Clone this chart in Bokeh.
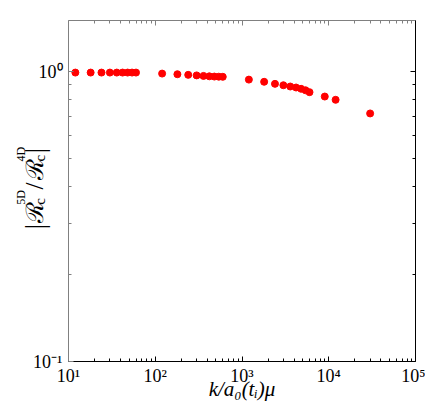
import math
from bokeh.plotting import figure
from bokeh.layouts import row
from bokeh.models import LogAxis, FixedTicker, CustomJSTickFormatter, Label, Range1d, ColumnDataSource
from bokeh.embed import file_html
from bokeh.resources import INLINE

# ---- data ----
k_values = [12, 18, 24, 30, 36, 42, 48, 54, 60,
            120, 180, 240, 300, 360, 420, 480, 540, 600,
            1200, 1800, 2400, 3000, 3600, 4200, 4800, 5400, 6000,
            9000, 12000, 30000]
ratio_values = [0.992, 0.992, 0.992, 0.992, 0.992, 0.992, 0.992, 0.992, 0.992,
                0.984, 0.979, 0.974, 0.970, 0.966, 0.963, 0.961, 0.960, 0.959,
                0.938, 0.922, 0.907, 0.897, 0.888, 0.881, 0.872, 0.862, 0.849,
                0.820, 0.799, 0.717]
x_major_ticks = [1e1, 1e2, 1e3, 1e4, 1e5]
y_major_ticks = [0.1, 1.0]
x_minor_ticks = [m * t for t in x_major_ticks[:-1] for m in range(2, 10)]
y_minor_ticks = [m * 0.1 for m in range(2, 10)]
x_label = "k/a\u2080(t\u1d62)\u03bc"
y_lo, y_hi = 0.1, 1.5

SERIF = "Liberation Serif"
FRAME_TOP, FRAME_H = 20, 341
LBL_W, LBL_H = 60, 400

p = figure(frame_width=347, frame_height=FRAME_H,
           x_axis_type="log", y_axis_type="log",
           x_range=Range1d(10, 1e5), y_range=Range1d(y_lo, y_hi),
           output_backend="svg", toolbar_location=None,
           min_border_left=68, min_border_top=FRAME_TOP, min_border_right=10, min_border_bottom=10)
p.outline_line_color = None
p.xgrid.visible = False
p.ygrid.visible = False
p.background_fill_color = "white"
p.border_fill_color = None
p.margin = (0, 0, 0, -LBL_W)

src = ColumnDataSource(dict(k=k_values, r=ratio_values))
p.scatter("k", "r", source=src, size=7, fill_color="#ff0000", line_color="#ff0000")

fmt_code = """
const e = Math.round(Math.log10(tick));
const m = {"-":"\\u207b","0":"\\u2070","1":"\\u00b9","2":"\\u00b2","3":"\\u00b3","4":"\\u2074","5":"\\u2075","6":"\\u2076","7":"\\u2077","8":"\\u2078","9":"\\u2079"};
return "10" + String(e).split("").map(c => m[c]).join("");
"""
blank_code = "return '';"

def style_axis(ax, ticker, line_color, labels=True):
    ax.ticker = ticker
    ax.axis_line_color = line_color
    ax.major_tick_line_color = line_color
    ax.minor_tick_line_color = line_color
    ax.major_tick_in = 5
    ax.major_tick_out = 0
    ax.minor_tick_in = 3
    ax.minor_tick_out = 0
    if labels:
        ax.formatter = CustomJSTickFormatter(code=fmt_code)
        ax.major_label_text_font = SERIF
        ax.major_label_text_font_size = "18px"
        ax.major_label_text_color = "black"
    else:
        ax.formatter = CustomJSTickFormatter(code=blank_code)
        ax.major_label_standoff = 0

xt = FixedTicker(ticks=x_major_ticks, minor_ticks=x_minor_ticks)
yt = FixedTicker(ticks=y_major_ticks, minor_ticks=y_minor_ticks)

bx = p.below[0]
style_axis(bx, xt, "black")
bx.major_label_standoff = 4
bx.axis_label = x_label
bx.axis_label_text_font = SERIF
bx.axis_label_text_font_style = "italic"
bx.axis_label_text_font_size = "21px"
bx.axis_label_text_color = "black"
bx.axis_label_standoff = -12

ly = p.left[0]
style_axis(ly, yt, "#808080")
ly.major_label_standoff = 6

top_ax = LogAxis()
style_axis(top_ax, FixedTicker(ticks=x_major_ticks, minor_ticks=x_minor_ticks), "#808080", labels=False)
p.add_layout(top_ax, "above")
right_ax = LogAxis()
style_axis(right_ax, FixedTicker(ticks=y_major_ticks, minor_ticks=y_minor_ticks), "black", labels=False)
p.add_layout(right_ax, "right")

# ---- y-axis label: rotated text pieces on a narrow blank panel under the plot's left border ----
lbl = figure(width=LBL_W, height=LBL_H, x_range=Range1d(0, LBL_W), y_range=Range1d(LBL_H, 0),
             x_axis_location=None, y_axis_location=None, min_border=0,
             output_backend="svg", toolbar_location=None)
lbl.outline_line_color = None
lbl.xgrid.visible = False
lbl.ygrid.visible = False
lbl.background_fill_color = None
lbl.border_fill_color = None

ANG = math.pi / 2
pieces = [
    # text, x of baseline, row of start (px from top), size
    ("|", 34, 247, "27px"),
    ("\u211b", 34, 240, "24px"),
    ("c", 39, 218, "15px"),
    ("5D", 20, 218, "12px"),
    ("/", 34, 200, "25px"),
    ("\u211b", 34, 189, "24px"),
    ("c", 39, 167, "15px"),
    ("4D", 20, 167, "12px"),
    ("|", 34, 157, "27px"),
]
for txt, xx, rr, fs in pieces:
    lbl.add_layout(Label(x=xx, y=rr, text=txt, angle=ANG, text_font=SERIF, text_font_size=fs,
                         text_color="black", text_align="left", text_baseline="alphabetic"))

layout = row(lbl, p)
open("out.html", "w").write(file_html(layout, INLINE))
